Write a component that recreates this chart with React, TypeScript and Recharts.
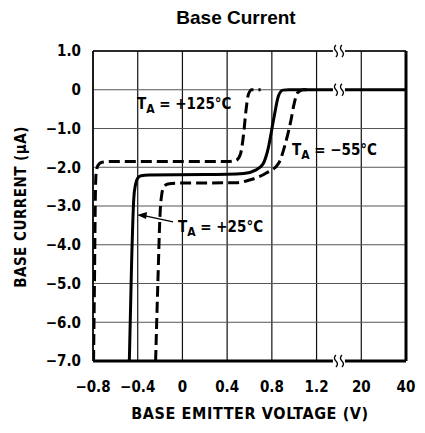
import React from 'react';
import { LineChart, Line, XAxis, YAxis, CartesianGrid, ReferenceLine, ReferenceDot } from 'recharts';

// T_A = +125°C
const volts125 = [-0.795, -0.787, -0.778, -0.772, -0.755, -0.72, -0.6, 0.42, 0.48, 0.52, 0.545, 0.57, 0.59, 0.62, 0.7];
const amps125 = [-7.0, -5.0, -2.6, -2.15, -1.95, -1.87, -1.85, -1.85, -1.82, -1.65, -1.2, -0.5, -0.12, 0, 0];

// T_A = +25°C
const volts25 = [-0.475, -0.455, -0.435, -0.42, -0.4, -0.37, -0.3, 0.2, 0.55, 0.65, 0.72, 0.76, 0.82, 0.86, 0.9, 0.95, 1.2, 20, 40];
const amps25 = [-7.0, -4.5, -2.8, -2.45, -2.28, -2.22, -2.2, -2.19, -2.16, -2.08, -1.92, -1.6, -0.7, -0.15, -0.01, 0, 0, 0, 0];

// T_A = -55°C
const volts55 = [-0.24, -0.22, -0.2, -0.185, -0.165, -0.13, -0.05, 0.48, 0.6, 0.75, 0.86, 0.92, 0.97, 1.0, 1.03, 1.08, 1.15];
const amps55 = [-7.0, -5.0, -3.2, -2.7, -2.5, -2.43, -2.41, -2.4, -2.33, -2.15, -1.9, -1.4, -0.8, -0.35, -0.08, 0, 0];

const xTickVolts = [-0.8, -0.4, 0, 0.4, 0.8, 1.2, 20, 40];
const xTickLabels = ['\u22120.8', '\u22120.4', '0', '0.4', '0.8', '1.2', '20', '40'];
const yTicks = [1, 0, -1, -2, -3, -4, -5, -6, -7];
const yTickLabels = ['1.0', '0', '\u22121.0', '\u22122.0', '\u22123.0', '\u22124.0', '\u22125.0', '\u22126.0', '\u22127.0'];

// broken axis: 1.2 V is followed by 20 V and 40 V at equal spacing
function axisPos(v: number) {
  return v <= 1.2 ? v : 1.2 + (0.4 * v) / 20;
}

function toPoints(volts: number[], amps: number[]) {
  return volts.map((v, i) => ({ x: axisPos(v), y: amps[i] }));
}

const data125 = toPoints(volts125, amps125);
const data25 = toPoints(volts25, amps25);
const data55 = toPoints(volts55, amps55);
const xTicks = xTickVolts.map(axisPos);

const FONT = "'Liberation Sans Narrow', 'DejaVu Sans Condensed', 'Liberation Sans', Arial, sans-serif";

const BreakMark = (props: any) => {
  const { cx, cy } = props;
  const s = (x: number) => `M${x + 1},${cy - 6} q-3,3 0,6 q3,3 0,6`;
  return (
    <g>
      <rect x={cx - 6} y={cy - 3} width={12} height={6} fill="#fff" />
      <path d={s(cx - 4)} stroke="#000" strokeWidth={1.3} fill="none" />
      <path d={s(cx + 2)} stroke="#000" strokeWidth={1.3} fill="none" />
    </g>
  );
};

const tempLabel = (sign: string) => (props: any) => {
  const { cx, cy } = props;
  return (
    <text x={cx} y={cy} fontFamily={FONT} fontWeight="bold" fontSize={15} fill="#000">
      T
      <tspan dy={4} fontSize={12}>A</tspan>
      <tspan dy={-4}>{` = ${sign}\u00b0C`}</tspan>
    </text>
  );
};

const ArrowLabel = (props: any) => {
  const { cx, cy } = props;
  return (
    <g>
      <line x1={cx + 8} y1={cy + 1} x2={cx + 36} y2={cy + 7} stroke="#000" strokeWidth={1.2} />
      <polygon points={`${cx},${cy} ${cx + 10},${cy - 3} ${cx + 9},${cy + 4}`} fill="#000" />
      <text x={cx + 41} y={cy + 17} fontFamily={FONT} fontWeight="bold" fontSize={15} fill="#000">
        T
        <tspan dy={4} fontSize={12}>A</tspan>
        <tspan dy={-4}>{' = +25\u00b0C'}</tspan>
      </text>
    </g>
  );
};

export default function App() {
  const tickStyle = { fill: '#000', fontSize: 15, fontWeight: 'bold', fontFamily: FONT };
  return (
    <div style={{ position: 'absolute', left: 0, top: 0, width: 425, height: 433, background: '#fff' }}>
      <div
        style={{
          position: 'absolute', left: 0, width: 472, top: 7, textAlign: 'center',
          fontFamily: "'Liberation Sans', Arial, sans-serif", fontWeight: 'bold', fontSize: 19,
        }}
      >
        Base Current
      </div>
      <div
        style={{
          position: 'absolute', left: 0, width: 500, top: 404, textAlign: 'center',
          fontFamily: FONT, fontWeight: 'bold', fontSize: 16, letterSpacing: 0.6,
        }}
      >
        BASE EMITTER VOLTAGE (V)
      </div>
      <div
        style={{
          position: 'absolute', left: 21, top: 207, width: 240, marginLeft: -120, marginTop: -8,
          textAlign: 'center', whiteSpace: 'nowrap', transform: 'rotate(-90deg)',
          fontFamily: FONT, fontWeight: 'bold', fontSize: 15, letterSpacing: 0.5, lineHeight: '16px',
        }}
      >
        {'BASE CURRENT (\u03bcA)'}
      </div>
      <LineChart width={425} height={433} margin={{ top: 51, right: 19, bottom: 42, left: 33 }} style={{ position: 'absolute', left: 0, top: 0 }}>
        <CartesianGrid horizontal={false} stroke="#111" strokeWidth={1.2} verticalValues={xTicks} />
        <CartesianGrid vertical={false} stroke="#555" strokeWidth={1} horizontalValues={yTicks} />
        <XAxis
          type="number"
          dataKey="x"
          domain={[-0.8, 2]}
          ticks={xTicks}
          allowDataOverflow
          tickSize={0}
          tickMargin={20}
          axisLine={{ stroke: '#000', strokeWidth: 3 }}
          tick={tickStyle}
          tickFormatter={(v: number) => xTickLabels[xTicks.indexOf(v)] ?? ''}
          interval={0}
        />
        <YAxis
          type="number"
          domain={[-7, 1]}
          ticks={yTicks}
          allowDataOverflow
          width={60}
          tickSize={0}
          tickMargin={12}
          axisLine={{ stroke: '#000', strokeWidth: 1.5 }}
          tick={tickStyle}
          tickFormatter={(v: number) => yTickLabels[yTicks.indexOf(v)] ?? ''}
          interval={0}
        />
        <ReferenceLine x={2} stroke="#000" strokeWidth={3} />
        <ReferenceLine y={1} stroke="#000" strokeWidth={1.5} />
        <Line data={data25} dataKey="y" type="monotone" stroke="#000" strokeWidth={3} dot={false} isAnimationActive={false} />
        <Line data={data125} dataKey="y" type="monotone" stroke="#000" strokeWidth={3} strokeDasharray="11 5" dot={false} isAnimationActive={false} />
        <Line data={data55} dataKey="y" type="monotone" stroke="#000" strokeWidth={3} strokeDasharray="11 5" dot={false} isAnimationActive={false} />
        <ReferenceDot x={1.4} y={1} ifOverflow="visible" shape={BreakMark} />
        <ReferenceDot x={1.4} y={0} ifOverflow="visible" shape={BreakMark} />
        <ReferenceDot x={1.4} y={-7} ifOverflow="visible" shape={BreakMark} />
        <ReferenceDot x={-0.406} y={-0.49} ifOverflow="visible" shape={tempLabel('+125')} />
        <ReferenceDot x={0.98} y={-1.68} ifOverflow="visible" shape={tempLabel('\u221255')} />
        <ReferenceDot x={-0.406} y={-3.23} ifOverflow="visible" shape={ArrowLabel} />
      </LineChart>
    </div>
  );
}
